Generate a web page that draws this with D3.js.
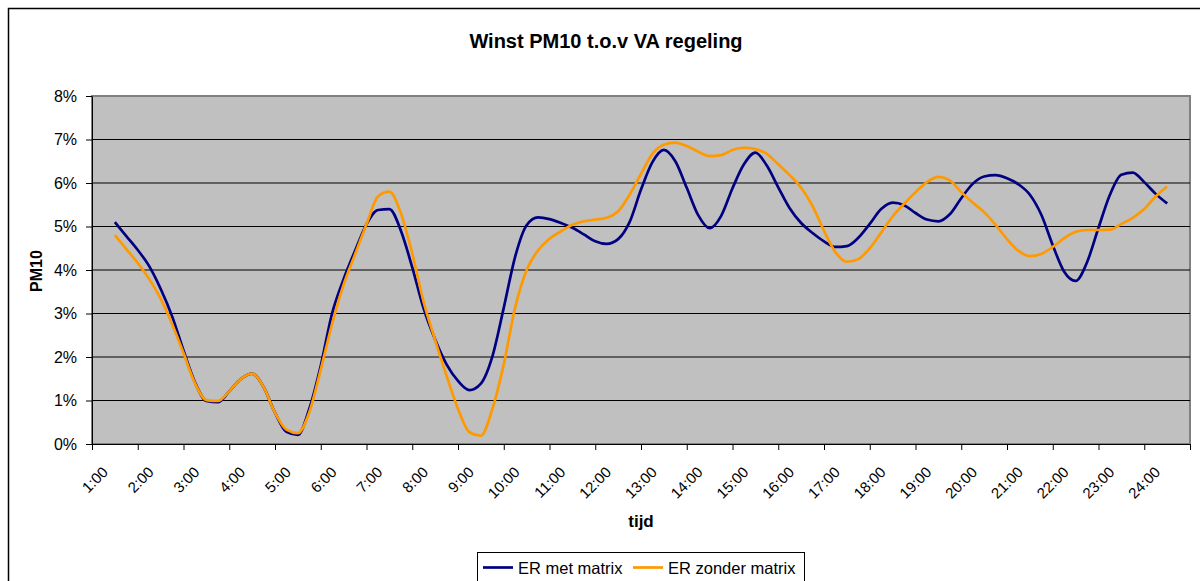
<!DOCTYPE html>
<html>
<head>
<meta charset="utf-8">
<script src="https://cdn.jsdelivr.net/npm/d3@7"></script>
<style>
  body { margin: 0; background: #fff; }
  svg { display: block; font-family: "Liberation Sans", Arial, sans-serif; }
</style>
</head>
<body>
<svg id="chart" width="1200" height="581"></svg>
<script>
// Hour categories on the x axis
const hourLabels = d3.range(1, 25).map(h => h + ":00");
// Measurement moments, one every quarter of an hour from 1:00 to 24:00
const quarterHours = d3.range(1, 24.001, 0.25);

// PM10 gain (in %) per quarter hour
const erMetMatrix = [
  5.10, 4.78, 4.46, 4.09, 3.57, 2.94, 2.15, 1.42, 0.99, 0.96,
  1.21, 1.49, 1.62, 1.31, 0.72, 0.28, 0.21, 0.81, 1.80, 3.01,
  3.79, 4.44, 5.05, 5.38, 5.40, 4.91, 4.06, 3.11, 2.40, 1.83,
  1.45, 1.24, 1.39, 2.01, 3.13, 4.31, 5.03, 5.21, 5.17, 5.08,
  4.97, 4.82, 4.66, 4.60, 4.71, 5.10, 5.85, 6.48, 6.76, 6.50,
  5.89, 5.26, 4.96, 5.24, 5.88, 6.43, 6.70, 6.40, 5.90, 5.42,
  5.08, 4.85, 4.66, 4.53, 4.55, 4.74, 5.06, 5.40, 5.55, 5.49,
  5.31, 5.16, 5.12, 5.28, 5.65, 5.98, 6.15, 6.18, 6.11, 5.97,
  5.73, 5.27, 4.57, 3.96, 3.75, 4.18, 4.97, 5.73, 6.19, 6.24,
  6.02, 5.75, 5.53
];
const erZonderMatrix = [
  4.80, 4.48, 4.16, 3.79, 3.34, 2.76, 2.09, 1.40, 1.01, 0.99,
  1.21, 1.49, 1.62, 1.31, 0.72, 0.33, 0.25, 0.73, 1.71, 2.77,
  3.66, 4.36, 5.05, 5.69, 5.80, 5.31, 4.38, 3.26, 2.39, 1.57,
  0.81, 0.27, 0.19, 0.80, 1.83, 3.14, 4.00, 4.45, 4.72, 4.89,
  5.04, 5.12, 5.16, 5.20, 5.35, 5.73, 6.21, 6.67, 6.88, 6.93,
  6.85, 6.72, 6.62, 6.64, 6.76, 6.81, 6.78, 6.67, 6.43, 6.18,
  5.89, 5.47, 4.90, 4.41, 4.19, 4.25, 4.50, 4.86, 5.23, 5.52,
  5.79, 6.02, 6.14, 6.06, 5.79, 5.55, 5.33, 5.04, 4.71, 4.44,
  4.32, 4.37, 4.53, 4.73, 4.88, 4.92, 4.92, 4.93, 5.06, 5.20,
  5.40, 5.69, 5.92
];
const yTicks = [0, 1, 2, 3, 4, 5, 6, 7, 8];

const seriesNames = ["ER met matrix", "ER zonder matrix"];
const seriesColors = ["#000080", "#FF9900"];

const plot = { left: 92, right: 1190, top: 96, bottom: 444 };
const svg = d3.select("#chart");
const fontFamily = "'Liberation Sans', Arial, sans-serif";

// Chart frame
svg.append("rect")
  .attr("x", 8.5).attr("y", 8.5)
  .attr("width", 1220).attr("height", 620)
  .attr("fill", "#fff").attr("stroke", "#000").attr("stroke-width", 1.5);

const xBand = d3.scaleBand().domain(hourLabels).range([plot.left, plot.right]);
const x = d3.scaleLinear().domain([0.5, 24.5]).range([plot.left, plot.right]);
const y = d3.scaleLinear().domain([0, 8]).range([plot.bottom, plot.top]);

// Plot area
svg.append("rect")
  .attr("x", plot.left).attr("y", plot.top)
  .attr("width", plot.right - plot.left).attr("height", plot.bottom - plot.top)
  .attr("fill", "#C0C0C0").attr("stroke", "#808080").attr("stroke-width", 2);

// Horizontal gridlines
svg.append("g")
  .selectAll("line")
  .data(yTicks.filter(d => d > 0 && d < 8))
  .join("line")
  .attr("x1", plot.left).attr("x2", plot.right)
  .attr("y1", d => y(d)).attr("y2", d => y(d))
  .attr("stroke", "#000").attr("stroke-width", 1);

// Y axis
const yAxis = svg.append("g")
  .attr("transform", `translate(${plot.left},0)`)
  .call(d3.axisLeft(y).tickValues(yTicks).tickFormat(d => d + "%").tickSize(6).tickSizeOuter(0).tickPadding(9));
yAxis.select(".domain").attr("stroke", "#000");
yAxis.selectAll(".tick line").attr("stroke", "#000");
yAxis.selectAll("text").attr("font-size", 16).attr("fill", "#000")
  .attr("font-family", fontFamily);

// X axis: tick marks between the hour categories
const xTickAxis = svg.append("g")
  .attr("transform", `translate(0,${plot.bottom})`)
  .call(d3.axisBottom(x).tickValues(d3.range(0.5, 24.6, 1)).tickFormat("").tickSize(6).tickSizeOuter(0));
xTickAxis.select(".domain").attr("stroke", "#000");
xTickAxis.selectAll(".tick line").attr("stroke", "#000");

// X axis: rotated hour labels
const xLabelAxis = svg.append("g")
  .attr("transform", `translate(0,${plot.bottom})`)
  .call(d3.axisBottom(xBand).tickSize(0).tickSizeOuter(0));
xLabelAxis.select(".domain").remove();
xLabelAxis.selectAll("text")
  .attr("font-size", 15).attr("fill", "#000")
  .attr("font-family", fontFamily)
  .attr("x", 0).attr("y", 0).attr("dy", 0)
  .attr("text-anchor", "end")
  .attr("transform", "translate(-6,29) rotate(-45)");

// Series lines
const line = d3.line()
  .x((d, i) => x(quarterHours[i]))
  .y(d => y(d))
  .curve(d3.curveMonotoneX);

[erMetMatrix, erZonderMatrix].forEach((values, k) => {
  svg.append("path")
    .datum(values)
    .attr("fill", "none")
    .attr("stroke", seriesColors[k])
    .attr("stroke-width", 2.7)
    .attr("stroke-linejoin", "round")
    .attr("d", line);
});

// Titles
svg.append("text")
  .attr("x", 606).attr("y", 48)
  .attr("text-anchor", "middle")
  .attr("font-size", 20).attr("font-weight", "bold")
  .text("Winst PM10 t.o.v VA regeling");

svg.append("text")
  .attr("transform", "translate(42,271) rotate(-90)")
  .attr("text-anchor", "middle")
  .attr("font-size", 16).attr("font-weight", "bold")
  .text("PM10");

svg.append("text")
  .attr("x", 641).attr("y", 527)
  .attr("text-anchor", "middle")
  .attr("font-size", 17).attr("font-weight", "bold")
  .text("tijd");

// Legend
const legend = svg.append("g");
legend.append("rect")
  .attr("x", 477.5).attr("y", 552.5)
  .attr("width", 327).attr("height", 32)
  .attr("fill", "#fff").attr("stroke", "#000").attr("stroke-width", 1);

const legendX = [483, 633];
seriesNames.forEach((name, k) => {
  legend.append("line")
    .attr("x1", legendX[k]).attr("x2", legendX[k] + 30)
    .attr("y1", 567.5).attr("y2", 567.5)
    .attr("stroke", seriesColors[k]).attr("stroke-width", 2.7);
  legend.append("text")
    .attr("x", legendX[k] + 35).attr("y", 573.5)
    .attr("font-size", 16.5)
    .text(name);
});
</script>
</body>
</html>
